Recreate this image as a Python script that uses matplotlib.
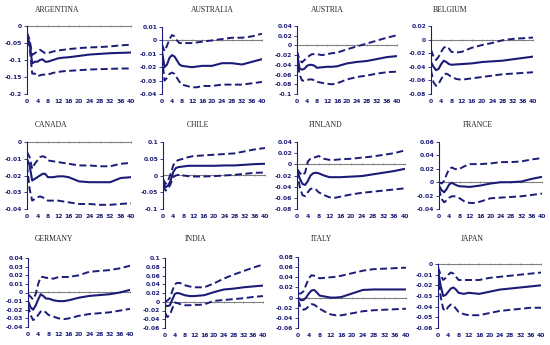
import matplotlib
matplotlib.use("Agg")
import matplotlib.pyplot as plt
from matplotlib.ticker import FuncFormatter

# horizons (quarters after the shock)
h = [0, 1, 2, 3, 4, 5, 6, 7, 8, 10, 12, 14, 16, 20, 24, 28, 32, 36, 40]
xticks = list(range(0, 41, 4))

# ---- impulse responses: mid, upper band, lower band ----
arg_mid = [-0.03, -0.05, -0.11, -0.105, -0.105, -0.10, -0.098, -0.105, -0.105, -0.10, -0.095, -0.093, -0.092, -0.088, -0.084, -0.082, -0.080, -0.079, -0.078]
arg_up = [-0.02, -0.04, -0.085, -0.08, -0.075, -0.07, -0.075, -0.08, -0.08, -0.075, -0.072, -0.070, -0.068, -0.065, -0.063, -0.062, -0.060, -0.057, -0.055]
arg_lo = [-0.04, -0.06, -0.14, -0.14, -0.148, -0.145, -0.143, -0.143, -0.143, -0.138, -0.135, -0.133, -0.132, -0.130, -0.128, -0.127, -0.126, -0.125, -0.125]

aus_mid = [-0.008, -0.020, -0.018, -0.013, -0.011, -0.012, -0.015, -0.018, -0.019, -0.0195, -0.020, -0.0195, -0.019, -0.019, -0.017, -0.017, -0.018, -0.016, -0.014]
aus_up = [-0.003, -0.008, -0.004, 0.001, 0.004, 0.003, 0.0, -0.002, -0.002, -0.002, -0.002, -0.0015, -0.001, 0.0, 0.001, 0.002, 0.002, 0.003, 0.005]
aus_lo = [-0.012, -0.030, -0.028, -0.025, -0.024, -0.025, -0.028, -0.031, -0.033, -0.034, -0.035, -0.035, -0.034, -0.034, -0.033, -0.033, -0.033, -0.032, -0.031]

aut_mid = [-0.015, -0.047, -0.050, -0.048, -0.042, -0.040, -0.040, -0.042, -0.046, -0.045, -0.044, -0.044, -0.043, -0.037, -0.034, -0.032, -0.028, -0.024, -0.022]
aut_up = [-0.012, -0.030, -0.035, -0.030, -0.025, -0.021, -0.018, -0.018, -0.018, -0.020, -0.018, -0.016, -0.015, -0.008, -0.002, 0.004, 0.010, 0.016, 0.021]
aut_lo = [-0.020, -0.060, -0.072, -0.073, -0.071, -0.070, -0.070, -0.072, -0.075, -0.077, -0.079, -0.080, -0.078, -0.070, -0.065, -0.062, -0.058, -0.055, -0.054]

bel_mid = [-0.033, -0.040, -0.045, -0.043, -0.036, -0.031, -0.033, -0.036, -0.037, -0.0365, -0.036, -0.0355, -0.035, -0.033, -0.032, -0.031, -0.029, -0.027, -0.025]
bel_up = [-0.015, -0.025, -0.030, -0.025, -0.018, -0.012, -0.010, -0.013, -0.018, -0.019, -0.018, -0.015, -0.012, -0.008, -0.005, -0.001, 0.001, 0.002, 0.003]
bel_lo = [-0.045, -0.063, -0.068, -0.065, -0.058, -0.052, -0.050, -0.052, -0.055, -0.058, -0.059, -0.058, -0.057, -0.055, -0.053, -0.051, -0.050, -0.049, -0.048]

can_mid = [-0.010, -0.014, -0.023, -0.022, -0.021, -0.020, -0.019, -0.019, -0.021, -0.021, -0.0205, -0.0205, -0.021, -0.0235, -0.024, -0.024, -0.024, -0.0215, -0.021]
can_up = [-0.006, -0.009, -0.016, -0.013, -0.011, -0.009, -0.0085, -0.009, -0.011, -0.0115, -0.012, -0.0125, -0.013, -0.014, -0.014, -0.0145, -0.0145, -0.013, -0.0125]
can_lo = [-0.014, -0.028, -0.035, -0.034, -0.033, -0.0325, -0.033, -0.034, -0.035, -0.035, -0.035, -0.0355, -0.036, -0.037, -0.037, -0.0375, -0.0375, -0.037, -0.0365]

chl_mid = [-0.020, -0.035, -0.030, -0.015, 0.010, 0.022, 0.025, 0.026, 0.027, 0.029, 0.029, 0.029, 0.029, 0.029, 0.030, 0.030, 0.032, 0.034, 0.035]
chl_up = [-0.010, -0.025, -0.015, 0.005, 0.030, 0.042, 0.046, 0.048, 0.050, 0.055, 0.058, 0.059, 0.060, 0.062, 0.064, 0.066, 0.072, 0.078, 0.082]
chl_lo = [-0.030, -0.045, -0.040, -0.025, -0.005, 0.0, 0.002, 0.001, 0.0, -0.002, -0.003, -0.003, -0.003, -0.002, 0.0, 0.002, 0.005, 0.008, 0.009]

fin_mid = [-0.010, -0.025, -0.035, -0.037, -0.030, -0.020, -0.016, -0.015, -0.016, -0.020, -0.023, -0.023, -0.023, -0.022, -0.021, -0.018, -0.015, -0.012, -0.008]
fin_up = [-0.008, -0.015, -0.020, -0.015, 0.005, 0.010, 0.012, 0.013, 0.015, 0.010, 0.008, 0.008, 0.009, 0.010, 0.012, 0.014, 0.017, 0.020, 0.025]
fin_lo = [-0.012, -0.040, -0.055, -0.057, -0.050, -0.044, -0.043, -0.045, -0.050, -0.055, -0.059, -0.060, -0.058, -0.054, -0.051, -0.049, -0.047, -0.045, -0.043]

fra_mid = [-0.005, -0.012, -0.015, -0.010, -0.003, -0.001, -0.003, -0.005, -0.006, -0.0065, -0.007, -0.006, -0.005, -0.002, 0.0, 0.0, 0.001, 0.005, 0.008]
fra_up = [0.0, -0.002, 0.002, 0.012, 0.020, 0.022, 0.020, 0.019, 0.020, 0.024, 0.027, 0.027, 0.027, 0.028, 0.030, 0.030, 0.031, 0.034, 0.036]
fra_lo = [-0.010, -0.025, -0.030, -0.027, -0.023, -0.021, -0.021, -0.022, -0.024, -0.029, -0.031, -0.031, -0.029, -0.024, -0.023, -0.022, -0.021, -0.019, -0.017]

ger_mid = [-0.010, -0.017, -0.020, -0.015, -0.008, -0.002, -0.004, -0.007, -0.007, -0.009, -0.010, -0.010, -0.009, -0.006, -0.004, -0.003, -0.002, 0.0, 0.003]
ger_up = [-0.002, -0.005, -0.008, -0.002, 0.010, 0.018, 0.018, 0.017, 0.017, 0.016, 0.018, 0.018, 0.018, 0.020, 0.024, 0.025, 0.026, 0.028, 0.031]
ger_lo = [-0.015, -0.026, -0.032, -0.030, -0.026, -0.022, -0.021, -0.023, -0.026, -0.028, -0.030, -0.031, -0.030, -0.027, -0.025, -0.024, -0.023, -0.021, -0.019]

ind_mid = [-0.008, -0.010, -0.008, 0.005, 0.018, 0.020, 0.019, 0.017, 0.015, 0.013, 0.013, 0.014, 0.015, 0.022, 0.028, 0.030, 0.033, 0.035, 0.037]
ind_up = [0.0, 0.003, 0.008, 0.025, 0.040, 0.043, 0.043, 0.041, 0.038, 0.035, 0.033, 0.033, 0.033, 0.042, 0.053, 0.062, 0.070, 0.078, 0.085]
ind_lo = [-0.025, -0.035, -0.030, -0.015, -0.002, -0.003, -0.005, -0.007, -0.008, -0.008, -0.007, -0.007, -0.006, 0.002, 0.004, 0.006, 0.008, 0.011, 0.013]

ita_mid = [0.0, -0.005, -0.005, 0.0, 0.008, 0.014, 0.015, 0.010, 0.004, 0.002, 0.0, 0.0, 0.001, 0.008, 0.015, 0.016, 0.016, 0.016, 0.016]
ita_up = [0.008, 0.008, 0.012, 0.025, 0.038, 0.044, 0.043, 0.040, 0.038, 0.039, 0.040, 0.041, 0.043, 0.048, 0.053, 0.056, 0.057, 0.058, 0.059]
ita_lo = [-0.005, -0.020, -0.024, -0.022, -0.017, -0.013, -0.014, -0.018, -0.022, -0.028, -0.033, -0.035, -0.035, -0.031, -0.027, -0.025, -0.024, -0.023, -0.022]

jpn_mid = [-0.005, -0.020, -0.030, -0.029, -0.026, -0.023, -0.022, -0.024, -0.027, -0.028, -0.027, -0.0275, -0.028, -0.026, -0.024, -0.023, -0.022, -0.021, -0.020]
jpn_up = [-0.003, -0.010, -0.015, -0.013, -0.010, -0.008, -0.009, -0.012, -0.015, -0.015, -0.015, -0.015, -0.015, -0.013, -0.012, -0.011, -0.010, -0.009, -0.008]
jpn_lo = [-0.008, -0.030, -0.042, -0.044, -0.040, -0.038, -0.039, -0.042, -0.045, -0.047, -0.048, -0.048, -0.048, -0.046, -0.044, -0.043, -0.042, -0.041, -0.041]

countries = ["ARGENTINA", "AUSTRALIA", "AUSTRIA", "BELGIUM",
             "CANADA", "CHILE", "FINLAND", "FRANCE",
             "GERMANY", "INDIA", "ITALY", "JAPAN"]
series = [(arg_mid, arg_up, arg_lo), (aus_mid, aus_up, aus_lo),
          (aut_mid, aut_up, aut_lo), (bel_mid, bel_up, bel_lo),
          (can_mid, can_up, can_lo), (chl_mid, chl_up, chl_lo),
          (fin_mid, fin_up, fin_lo), (fra_mid, fra_up, fra_lo),
          (ger_mid, ger_up, ger_lo), (ind_mid, ind_up, ind_lo),
          (ita_mid, ita_up, ita_lo), (jpn_mid, jpn_up, jpn_lo)]
# y axis range and step for each panel
yranges = [(-0.2, 0, 0.05), (-0.04, 0.01, 0.01), (-0.1, 0.04, 0.02), (-0.08, 0.02, 0.02),
           (-0.04, 0, 0.01), (-0.1, 0.1, 0.05), (-0.08, 0.04, 0.02), (-0.04, 0.06, 0.02),
           (-0.04, 0.04, 0.01), (-0.06, 0.1, 0.02), (-0.06, 0.08, 0.02), (-0.06, 0, 0.01)]

# panel boxes in pixels: left, right, top, bottom ; title centre x
boxes = [(27, 131, 26, 94), (162, 262, 27, 94), (297, 397, 26, 94), (431, 533, 26, 94),
         (27, 131, 142, 209), (163, 265, 142, 209), (297, 405, 142, 209), (439, 542, 142, 209),
         (28, 130, 258, 327), (165, 263, 258, 328), (298, 406, 257, 328), (438, 541, 264, 328)]
title_x = [57, 212, 327, 450, 51, 198, 326, 478, 54, 196, 321, 472]
title_y = [10, 10, 10, 10, 125, 125, 125, 125, 239, 239, 239, 239]

W, H = 550, 345
navy = "#1c1c78"
fig = plt.figure(figsize=(W / 100, H / 100), dpi=100)


def fmt(v, pos):
    s = "%g" % round(v, 3)
    return "0" if s in ("0", "-0") else s


for i, name in enumerate(countries):
    l, r, t, b = boxes[i]
    ax = fig.add_axes([l / W, 1 - b / H, (r - l) / W, (b - t) / H])
    mid, up, lo = series[i]
    ymin, ymax, step = yranges[i]

    ax.plot(h, up, color=navy, lw=1.4, dashes=(3.6, 1.8))
    ax.plot(h, lo, color=navy, lw=1.4, dashes=(3.6, 1.8))
    ax.plot(h, mid, color=navy, lw=1.5)

    ax.set_xlim(0, 40)
    ax.set_ylim(ymin, ymax)
    n = int(round((ymax - ymin) / step))
    ax.set_yticks([ymin + k * step for k in range(n + 1)])
    ax.yaxis.set_major_formatter(FuncFormatter(fmt))
    ax.set_xticks(xticks)

    for s in ("top", "right", "bottom"):
        ax.spines[s].set_visible(False)
    ax.spines["left"].set_color(navy)
    ax.spines["left"].set_linewidth(0.8)
    ax.tick_params(axis="y", direction="out", length=2, width=0.6, color=navy,
                   labelsize=4.3, labelcolor=navy, pad=1.5)
    ax.tick_params(axis="x", length=0, labelsize=4.3, labelcolor=navy, pad=3.5)
    for lab in ax.get_xticklabels() + ax.get_yticklabels():
        lab.set_fontweight("bold")

    # category axis crossing at zero
    zpos = (0 - ymin) / (ymax - ymin)
    sec = ax.secondary_xaxis(zpos)
    sec.set_xticks(xticks)
    sec.tick_params(direction="inout", length=2, width=0.5, color="#808080",
                    labelbottom=False, labeltop=False)
    for s in sec.spines.values():
        s.set_color("#808080")
        s.set_linewidth(0.8)

    fig.text(title_x[i] / W, 1 - title_y[i] / H, name, ha="center", va="center",
             fontsize=5.5, family="Liberation Serif", color="#222222")

fig.savefig("out.png", dpi=100)
